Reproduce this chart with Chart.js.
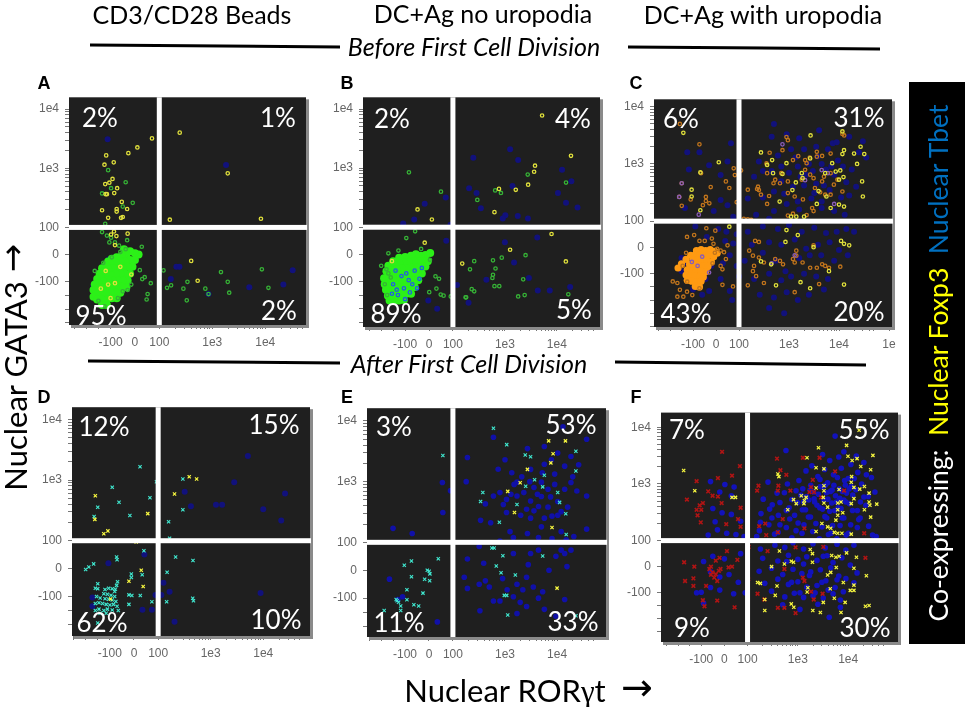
<!DOCTYPE html>
<html>
<head>
<meta charset="utf-8">
<script src="https://cdn.jsdelivr.net/npm/chart.js@4"></script>
<style>
  html, body { margin: 0; padding: 0; background: #fff; }
  #page { position: relative; width: 965px; height: 707px; overflow: hidden; font-family: Lato, sans-serif; color: #000; }
  #page canvas { position: absolute; filter: blur(0.35px); }
  .txt { position: absolute; transform: translate(-50%, -50%); white-space: pre; z-index: 5; }
  .title { font-size: 25px; }
  .sub { font-size: 25px; font-style: italic; }
  .pct { color: #fff; font-size: 26px; }
  .letter { font: bold 18px "Liberation Sans", sans-serif; }
  #side { position: absolute; left: 909px; top: 82px; width: 56px; height: 562px; background: #000; z-index: 4; }
  #rules { position: absolute; left: 0; top: 0; z-index: 3; }
</style>
</head>
<body>
<div id="page">
  <svg id="rules" width="965" height="707">
    <g stroke="#000" stroke-width="3">
      <line x1="90" y1="45" x2="340" y2="47"/>
      <line x1="628" y1="47" x2="880" y2="49"/>
      <line x1="88" y1="361" x2="340" y2="363"/>
      <line x1="615" y1="362" x2="866" y2="365"/>
    </g>
  </svg>
  <div class="txt title" style="left:192px;top:14px">CD3/CD28 Beads</div>
  <div class="txt title" style="left:483px;top:13px">DC+Ag no uropodia</div>
  <div class="txt title" style="left:763px;top:14px">DC+Ag with uropodia</div>
  <div class="txt sub" style="left:474px;top:46px">Before First Cell Division</div>
  <div class="txt sub" style="left:469px;top:363px">After First Cell Division</div>
  <div class="txt" style="left:15px;top:386px;font-size:31px;transform:translate(-50%,-50%) rotate(-90deg)">Nuclear GATA3</div>
  <div class="txt" style="left:12px;top:258px;font:34px 'DejaVu Sans';transform:translate(-50%,-50%) rotate(-90deg)">→</div>
  <div class="txt" style="left:505px;top:690px;font-size:31px">Nuclear ROR<span style="font-family:'Liberation Serif'">γ</span>t</div>
  <div class="txt" style="left:637px;top:687px;font:38px 'DejaVu Sans'">→</div>
  <div id="side"></div>
  <div class="txt" style="left:938px;top:363px;font-size:26.5px;color:#fff;z-index:6;transform:translate(-50%,-50%) rotate(-90deg)">Co-expressing:  <span style="color:#ffff00">Nuclear Foxp3</span>  <span style="color:#0070c0">Nuclear Tbet</span></div>
</div>

<script>
// Tick values on both biexponential axes
const majorTicks = [-100, 0, 100, 1000, 10000, 100000];
const minorTicks = [-300, -250, -200, -150, 200, 300, 400, 500, 600, 700, 800, 900,
  2000, 3000, 4000, 5000, 6000, 7000, 8000, 9000, 20000, 30000, 40000, 50000];
const tickLabels = { '-100': '-100', '0': '0', '100': '100', '1000': '1e3', '10000': '1e4', '100000': '1e' };

// Percent labels of each panel
const pctA = ['2%', '1%', '95%', '2%'];
const pctB = ['2%', '4%', '89%', '5%'];
const pctC = ['6%', '31%', '43%', '20%'];
const pctD = ['12%', '15%', '62%', '10%'];
const pctE = ['3%', '53%', '11%', '33%'];
const pctF = ['7%', '55%', '9%', '30%'];

// Panel A
const aBlue = [[-112,3100],[1820,1140],[210,-45],[240,-45],[165,-90],[5000,-120],[22000,-110],[33000,-57],[-170,-115],[-142,-78],[-107,-17],[-100,-100],[850,-145]];
const aBlob = [[15,0],[0,5],[-20,12],[-45,20],[-35,0],[-55,-5],[-75,-10],[-95,-15],[-110,-25],[0,-20],[-20,-20],[-40,-25],[-60,-25],[-80,-30],[-100,-35],[-120,-40],[-135,-50],[-10,-45],[-30,-45],[-50,-50],[-70,-50],[-90,-50],[-110,-55],[-130,-60],[-145,-70],[-20,-70],[-40,-70],[-60,-70],[-80,-70],[-100,-75],[-120,-75],[-140,-85],[-155,-90],[-30,-95],[-50,-95],[-70,-95],[-90,-95],[-110,-95],[-130,-100],[-150,-105],[-165,-110],[-35,-120],[-55,-118],[-75,-118],[-95,-118],[-115,-120],[-135,-120],[-155,-125],[-170,-130],[-60,-140],[-80,-140],[-100,-140],[-120,-140],[-140,-145],[-160,-145],[-170,-155],[-75,-160],[-95,-160],[-115,-165],[-135,-165],[-155,-165],[-115,-185],[-135,-185]];
const aGreen = [[-110,930],[-38,580],[-98,460],[-135,375],[-9,260],[-50,225],[-122,115],[-135,83],[-115,70],[-98,62],[-32,53],[28,29],[-38,20],[-65,33],[120,-58],[1460,-64],[8640,-54],[1960,-100],[2090,-140],[11500,-122],[740,-125],[340,-100],[285,-125],[330,-168],[140,-122],[167,-113],[52,-145],[48,-165],[65,-105],[40,-83],[30,-90],[20,-57],[850,-145],[-165,-60],[-150,-170],[-125,-190],[-70,-160],[-50,-135],[-30,-130],[-15,-110],[-130,-30],[-95,-10],[-60,10],[-82,45],[-105,45]];
const aYellow = [[70,3200],[10,2250],[-27,1800],[-118,1650],[-125,1150],[-87,1260],[-122,540],[-105,570],[-92,660],[-73,460],[-85,380],[-115,365],[-120,365],[-54,270],[-135,195],[-75,205],[-75,185],[-32,205],[-110,145],[-50,150],[-57,145],[243,4000],[1960,820],[158,135],[8300,140],[-86,85],[-76,68],[-98,74],[-30,77],[-82,35],[400,-23],[530,-96],[-15,-73],[-110,-110],[-82,-105],[-120,-60],[-60,-45],[-100,-160],[-140,-125]];

// Panel B
const bBlue = [[247,1500],[1260,2100],[1800,1380],[205,455],[285,380],[1400,500],[345,210],[1020,160],[1770,155],[2780,140],[15000,260],[25000,215],[10500,380],[12600,940],[19000,600],[70,320],[-18,250],[-62,135],[-108,115],[90,110],[910,140],[72,50],[1000,45],[4200,62],[1500,-30],[2900,-87],[4300,-133],[7300,-133],[18000,-120],[200,-178],[34,-200],[-3,-170],[120,-113],[440,-93]];
const bBlob = [[5,5],[-15,-2],[-35,-5],[-55,0],[-75,-5],[-100,-10],[-125,-12],[-150,-25],[-5,-25],[-25,-25],[-45,-25],[-65,-25],[-85,-28],[-105,-30],[-125,-32],[-145,-38],[-170,-42],[-15,-45],[-35,-48],[-55,-48],[-75,-48],[-95,-50],[-115,-52],[-135,-55],[-155,-58],[-178,-62],[-30,-70],[-50,-70],[-70,-70],[-90,-72],[-110,-74],[-130,-76],[-150,-78],[-172,-82],[-188,-88],[-45,-95],[-65,-95],[-85,-95],[-105,-98],[-125,-100],[-145,-100],[-165,-105],[-185,-110],[-60,-120],[-80,-120],[-100,-122],[-120,-122],[-140,-125],[-160,-125],[-180,-130],[-75,-145],[-95,-145],[-115,-148],[-135,-148],[-155,-150],[-172,-152],[-105,-168],[-125,-170],[-145,-170],[-165,-170]];
const bGreen = [[-84,850],[50,400],[295,290],[650,420],[840,380],[15000,570],[2750,780],[-95,60],[-58,85],[-33,20],[-128,14],[-170,4],[-200,-42],[4,-20],[-178,-55],[-155,-25],[27,-81],[42,-90],[31,-126],[1,-139],[49,-148],[61,-152],[91,-155],[213,-55],[257,-25],[230,-128],[257,-136],[180,-158],[175,-158],[590,-22],[870,-12],[660,-52],[590,-75],[575,-87],[630,-117],[780,-117],[2250,-92],[2500,-3],[1800,-155],[2400,-150],[16600,-147],[-185,-110],[-175,-150],[-160,-85],[-170,-70]];
const bYellow = [[5200,7800],[18700,1620],[3800,1100],[3650,870],[2800,525],[1620,430],[770,445],[630,180],[-48,200],[12,135],[-18,43],[-155,-25],[151,-34],[1260,17],[7900,75],[14900,-26]];
const bRing = [[-140,-60],[-115,-80],[-85,-95],[-60,-60],[-105,-125],[-130,-150],[-80,-140],[-40,-90],[-70,-110],[-30,-50],[-150,-110],[-100,-165],[-135,-130],[-155,-145],[-50,-125],[-95,-70]];

// Panel C
const cBlue = [[-125,1600],[-72,1600],[65,2300],[50,1100],[-30,950],[20,640],[-118,800],[-135,170],[20,235],[50,190],[-10,150],[75,120],[500,5000],[900,3300],[1600,2800],[4000,3900],[7500,2300],[450,3000],[2000,1800],[3500,2000],[6000,1800],[9000,2400],[16000,3000],[30000,2500],[35000,1300],[25000,1600],[250,1100],[600,1400],[1100,1800],[1500,900],[2500,1000],[4500,1000],[7000,900],[12000,900],[18000,800],[200,600],[300,750],[450,750],[700,500],[1000,700],[1700,600],[3000,750],[5000,420],[8000,650],[14000,480],[22000,400],[150,250],[300,260],[500,330],[800,300],[1200,400],[2000,420],[3500,450],[6500,350],[11000,260],[16000,280],[220,130],[500,150],[900,200],[1500,220],[2800,250],[4500,220],[8000,150],[13000,130],[400,110],[-90,80],[-40,40],[10,70],[45,60],[90,50],[75,15],[60,-30],[90,-70],[100,-110],[-140,-60],[-130,-110],[-60,-180],[-100,-160],[20,-120],[60,-165],[70,-200],[150,60],[300,80],[600,70],[1000,85],[1800,60],[3200,75],[5500,55],[9000,60],[14000,70],[20000,60],[180,10],[400,20],[700,10],[1300,30],[2200,-5],[3800,10],[6500,20],[10000,-10],[15000,-30],[130,-50],[300,-20],[550,-50],[850,-90],[1600,-40],[2600,-30],[4400,-30],[8000,-50],[200,-120],[400,-100],[700,-125],[1100,-110],[2000,-100],[3500,-110],[6000,-120],[260,-180],[500,-190],[900,-170],[1500,-200],[2500,-180],[5000,-160],[800,-250],[400,-230],[-90,-150],[-150,-90],[-115,-75],[-45,-120],[-20,-70],[-60,-110],[-85,-50],[-150,-40],[-30,-165],[30,-60],[40,25],[1350,1300],[3800,1350],[2200,650],[5500,800],[9500,1150],[700,900],[3200,310],[4500,170],[1600,160]];
const cBlob = [[-85,-12],[-65,-8],[-45,-12],[-25,-8],[-5,-15],[5,-22],[-110,-30],[-90,-28],[-70,-28],[-50,-30],[-30,-30],[-10,-35],[-130,-45],[-100,-48],[-80,-48],[-60,-50],[-40,-50],[-20,-55],[-150,-62],[-115,-65],[-95,-68],[-75,-68],[-55,-70],[-35,-72],[-165,-78],[-125,-85],[-105,-88],[-85,-88],[-65,-90],[-45,-92],[-130,-105],[-110,-108],[-90,-108],[-70,-110],[-55,-112],[-125,-125],[-105,-128],[-85,-130],[-65,-128],[-90,-148],[-72,-150]];
const cOrange = [[-157,5000],[-72,2200],[-149,460],[-160,265],[-23,395],[-44,265],[-44,225],[-29,205],[-57,190],[-110,240],[-149,185],[-65,690],[43,495],[58,380],[77,840],[82,640],[110,770],[90,215],[150,355],[240,400],[250,350],[275,290],[365,200],[400,275],[230,365],[490,460],[530,530],[355,1020],[410,1570],[365,690],[890,2950],[950,2600],[740,1740],[1530,1370],[2100,1170],[2600,1290],[3600,1630],[3600,1340],[4600,1380],[6800,1520],[11700,3350],[12700,3150],[1200,1170],[2250,1030],[2100,790],[1800,530],[2650,650],[3100,565],[5000,600],[4600,495],[6800,690],[9300,530],[7900,435],[950,495],[700,690],[660,460],[950,310],[1300,270],[1900,240],[3300,380],[4200,320],[5300,290],[6800,290],[11700,330],[2900,170],[3100,150],[1200,135],[950,125],[2250,128],[125,110],[150,108],[175,105],[-42,73],[-3,64],[-126,40],[-95,47],[-72,25],[-49,25],[-18,34],[-11,14],[5,-5],[20,-12],[43,-44],[35,-18],[50,8],[20,-70],[28,-83],[-188,-129],[-168,-135],[-157,-161],[-168,-187],[-142,-187],[-126,-168],[-103,-181],[-72,-155],[28,-142],[74,-148],[210,25],[250,21],[160,-12],[190,-31],[250,-38],[200,-70],[190,-90],[220,-109],[530,-44],[660,-51],[760,-64],[1200,-44],[1400,-12],[1400,-31],[1300,-57],[1870,-57],[3100,8],[3600,-77],[4600,-64],[5300,-70],[6300,-77],[10600,-73],[315,-135],[150,-144],[1300,-170],[4000,-139],[2650,-77],[315,-57],[-130,-20],[-145,-70],[-125,-130],[-15,-60],[-5,-20]];
const cYellow = [[-142,3500],[12,1070],[-106,355],[-106,270],[-68,155],[-68,710],[275,1590],[460,1170],[480,690],[890,1030],[365,960],[740,670],[1170,350],[650,220],[2700,3150],[11700,3700],[27000,2000],[32000,1490],[20000,1520],[12600,1740],[11700,1490],[7300,1030],[23000,1000],[8600,735],[10000,530],[12300,590],[29000,495],[30000,270],[10600,770],[6800,170],[10000,195],[12600,180],[3600,200],[1870,565],[1370,475],[1800,690],[2650,1250],[5300,690],[3900,335],[5600,270],[1400,120],[2000,120],[1100,120],[890,66],[1500,47],[850,21],[11000,25],[12600,14],[16000,8],[275,-53],[440,-64],[550,-144],[1700,-132],[2650,-155],[12600,-141],[6300,-90],[3100,1],[58,79]];
const cPurple = [[740,2200],[-149,460],[-160,265],[4500,780],[6000,690],[2100,520],[8000,200],[-80,-70],[-60,-35],[-105,-55],[-30,-95],[1300,-30],[450,-60],[-75,130]];

// Panel D
const dBlue = [[5100,2500],[2800,920],[26000,600],[10000,330],[22000,215],[320,640],[420,370],[1260,390],[1650,390],[-106,19],[43,51],[126,-51],[165,-83],[89,-94],[115,-94],[35,-147],[74,-147],[205,-190],[8900,-87],[-172,-103],[-172,-135]];
const dCyan = [[25,1650],[-90,760],[93,940],[66,510],[-62,430],[-150,355],[-17,260],[-165,250],[295,1040],[295,325],[158,205],[165,110],[41,64],[-72,42],[-70,32],[-167,17],[-187,6],[-200,-3],[-150,-54],[-68,-47],[-72,-60],[-77,-74],[-11,-19],[-11,-32],[34,-22],[148,-13],[215,42],[460,29],[-21,-94],[-9,-96],[26,-96],[-21,-128],[74,-119],[145,-119],[455,-106],[470,-115],[-160,-70],[-150,-72],[-120,-75],[-105,-70],[-90,-72],[-80,-82],[-125,-90],[-110,-92],[-95,-95],[-80,-100],[-155,-100],[-140,-105],[-120,-108],[-105,-110],[-90,-112],[-75,-118],[-160,-125],[-145,-122],[-130,-125],[-115,-128],[-100,-130],[-85,-128],[-70,-135],[-160,-150],[-145,-145],[-125,-150],[-110,-145],[-90,-148],[-65,-150],[-150,-195],[-115,-160],[-140,-160]];
const dYellow = [[390,1130],[540,1040],[205,590],[57,280],[-160,550],[-162,225],[-125,130],[-108,145],[9,96],[30,-6],[-21,-45],[38,-64],[-97,-109]];

// Panel E
const eBlue = [[56,970],[90,710],[58,310],[-150,170],[-70,140],[190,2500],[600,5400],[180,1000],[740,1600],[1000,2300],[1350,1400],[2700,3500],[5700,3800],[10300,2950],[37000,5000],[18500,2600],[26000,1900],[14000,1800],[9000,1330],[5700,1930],[3100,1590],[1700,980],[2300,660],[3600,800],[1070,510],[800,660],[600,580],[420,430],[340,230],[530,210],[1070,310],[1700,580],[3100,480],[5000,570],[6700,380],[18500,970],[37000,580],[16000,380],[10300,280],[5700,250],[3100,250],[2000,280],[1250,150],[2700,140],[5000,180],[8000,270],[12000,150],[37000,165],[21000,125],[800,105],[1450,120],[4400,120],[8000,115],[15000,110],[10300,470],[4400,390],[5000,980],[14000,750],[6700,750],[13000,8000],[190,40],[320,85],[165,-25],[190,-65],[320,-50],[390,25],[420,-38],[600,-110],[330,-145],[800,-110],[1450,-95],[1960,-115],[1700,-50],[2800,20],[3100,60],[5300,-77],[2600,-25],[7000,0],[9500,50],[15500,13],[14000,60],[18500,72],[12000,72],[4400,72],[1450,60],[5700,-140],[4400,-100],[2600,-130],[1700,-155],[9500,-165],[14000,-105],[-165,-32],[35,-185],[-130,-105],[-110,-95],[1500,900],[2100,1200],[3000,1000],[4200,620],[7500,560],[2600,350],[1300,620],[930,420],[9000,900],[20000,1200],[24000,700],[12000,320],[3600,330],[5200,1400],[7800,2300],[1100,-70],[2200,-70],[3500,-60],[900,-30],[500,-60]];
const eCyan = [[58,2700],[600,7600],[1080,4070],[2450,2750],[3100,2570],[23000,3160],[23000,1500],[5700,1270],[3700,1070],[2500,840],[5300,820],[10300,660],[11200,455],[14700,295],[15000,135],[375,660],[340,470],[780,215],[1700,420],[560,80],[620,80],[910,52],[680,15],[840,-9],[1580,-17],[970,-90],[1080,-90],[1130,-160],[5300,51],[23000,-163],[39,41],[-73,33],[-103,18],[-73,-23],[-7,0],[1,-4],[4,-13],[-18,-32],[3,-38],[-92,-70],[-25,-82],[-92,-106],[-137,-105],[-133,-109],[-127,-115],[-63,-124],[-43,-128],[-118,-128],[-118,-144],[-187,-144]];
const eYellow = [[6900,4700],[14500,4700],[8400,2880],[7600,2040],[2700,1590],[1960,960],[1130,690],[1520,310],[8000,175],[10000,-64]];

// Panel F
const fBlue = [[580,3900],[5500,7000],[3100,3300],[8200,3700],[14500,3100],[1900,2100],[4300,2600],[6500,3000],[11300,2200],[20500,2400],[1450,1700],[2500,1350],[3400,1800],[5100,1450],[7300,1900],[10000,1250],[15500,1600],[23000,1450],[1050,1150],[1800,950],[2750,1200],[3900,1050],[6100,1300],[8800,950],[13200,1250],[18500,1000],[29000,1300],[620,1000],[920,760],[1250,820],[2050,720],[3050,880],[4450,740],[6700,820],[9300,690],[14200,790],[20500,590],[34000,720],[255,1080],[385,690],[540,700],[760,530],[1150,640],[1650,520],[2550,660],[3950,540],[5600,620],[8200,520],[12300,640],[17500,480],[25000,600],[205,540],[310,430],[440,470],[670,380],[980,470],[1420,350],[2150,480],[3100,360],[4700,460],[7200,370],[10500,450],[15200,340],[22500,420],[185,300],[275,360],[410,280],[590,340],[860,280],[1230,350],[1780,260],[2720,380],[3750,250],[5400,340],[8200,250],[12200,340],[17300,250],[180,210],[305,250],[440,190],[690,240],[1010,205],[1620,260],[2280,200],[3450,265],[4900,185],[7600,250],[11200,190],[16200,235],[25500,180],[172,150],[265,190],[405,140],[590,170],[920,150],[1320,190],[1970,145],[3020,175],[4550,135],[6900,185],[10100,135],[15200,170],[30500,125],[152,118],[345,130],[760,112],[1210,135],[2680,108],[4050,128],[5950,108],[9100,125],[36000,118],[1500,600],[2100,550],[2800,900],[3300,520],[3700,700],[4800,780],[5800,480],[6800,560],[7700,740],[9000,480],[10500,820],[1300,480],[1750,780],[2400,420],[3500,950],[4300,330],[5200,950],[6300,380],[8500,1150],[11500,900],[-60,1100],[2,980],[42,880],[-20,720],[30,620],[-50,370],[-10,310],[30,290],[70,220],[-30,155],[10,135],[50,128],[85,118],[-70,125],[-40,215],[70,50],[-50,40],[0,30],[-90,20],[-60,-20],[-20,-40],[20,-30],[60,-60],[90,-100],[-120,-100],[-100,-98],[-60,-80],[-20,-90],[40,-104],[-90,-140],[180,68],[350,82],[550,74],[800,92],[1300,68],[2000,88],[3500,72],[6000,86],[9000,64],[13000,82],[200,32],[400,22],[650,44],[1000,28],[1500,38],[2400,24],[3800,42],[5000,16],[7500,34],[11000,6],[170,-18],[300,-6],[500,-30],[800,-10],[1200,-26],[1700,-34],[2800,-12],[4500,-4],[6500,-36],[9000,-46],[15000,-24],[220,-64],[400,-48],[650,-68],[1000,-58],[1500,-78],[2400,-72],[3600,-54],[5500,-80],[8000,-96],[13000,-62],[300,-94],[550,-116],[850,-102],[1300,-118],[2000,-112],[3200,-120],[5000,-104],[7000,-128],[500,-146],[1100,-164],[2500,-144],[4200,-194],[7000,-156],[750,-60],[1100,-100],[1800,-20],[2200,-100],[3000,-60],[4000,-90],[6000,-50],[600,20],[1300,10],[3200,40]];
const fRed = [[-10,3700],[67,2070],[33,1400],[-28,1270],[-120,1120],[-162,530],[-70,740],[-51,620],[-28,600],[-12,460],[-93,460],[-107,420],[-120,350],[-100,350],[-116,280],[-102,210],[8,195],[59,240],[70,175],[70,380],[385,2800],[1260,2900],[2700,2900],[450,1750],[590,1450],[410,930],[165,930],[155,760],[400,760],[710,760],[5500,1670],[1980,1180],[1830,880],[1700,720],[2100,720],[8300,760],[2900,580],[500,240],[225,200],[170,180],[400,140],[235,125],[1350,165],[20800,135],[3200,76],[105,76],[11,60],[-174,17],[-130,0],[-170,-55],[-134,-45],[-134,-74],[-79,-74],[-21,34],[-37,23],[-58,0],[-65,-9],[-51,-22],[-37,-29],[-24,-16],[-44,-42],[-31,-55],[-58,-31],[-17,-9],[18,-3],[33,0],[56,26],[103,-48],[-93,-129],[-31,-130],[44,-156],[-86,-152],[1350,-55],[1260,-42],[1830,-96],[3100,-104],[158,-104],[540,-158],[400,-158],[900,-178],[2070,-126],[540,-9],[215,-126],[22000,34],[900,74],[250,60]];
const fYellow = [[-176,1730],[-128,760],[33,580],[48,580],[16500,8900],[2570,4360],[9300,4800],[9900,3080],[1520,2900],[31000,3200],[12000,2600],[15000,2800],[17800,2040],[2300,1930],[3300,1850],[28000,1780],[400,1500],[420,1350],[11700,1350],[3300,930],[3300,760],[6600,800],[13000,870],[11500,1070],[21000,900],[17000,810],[26000,690],[2300,850],[1170,620],[1460,580],[1350,510],[1320,450],[820,530],[930,450],[3200,580],[3300,460],[6200,460],[7200,480],[3900,390],[13000,550],[11500,450],[26000,480],[27000,420],[37000,440],[21000,350],[28000,260],[630,350],[6200,350],[7800,310],[6200,280],[5700,230],[3000,200],[3900,175],[4500,165],[2300,145],[5300,140],[6200,135],[7500,135],[11500,130],[430,60],[540,10],[740,21],[820,17],[300,0],[1760,66],[1950,50],[1950,17],[4700,43],[5700,36],[6600,40],[9300,53],[14600,36],[13000,-6],[5800,-3],[4500,-22],[3900,-32],[23000,-35],[8000,-61],[13000,-71],[11000,-91],[13000,-91],[4400,-85],[5300,-121],[3200,-137],[8700,-137],[1580,-81],[1530,-97],[385,-74],[355,-110],[158,-61],[180,-64],[220,-126],[220,-168],[740,-143],[830,-156],[1980,-168],[2800,-176],[7200,-176],[22000,-152],[26000,-149]];

// Panels: plot rectangle in page pixels and axis limits in display units
const panels = [
  { letter: 'A', lx: 44, ly: 83, left: 69, right: 306, top: 96, bottom: 325, xr: [-1.245, 3.23], yr: [-1.19, 2.66], pct: pctA,
    pos: [[100,117],[278,117],[101,315],[279,310]],
    series: [['blue', aBlue], ['green', aBlob], ['ringGreen', aGreen], ['ringYellow', aYellow]] },
  { letter: 'B', lx: 347, ly: 83, left: 363, right: 600, top: 96, bottom: 327, xr: [-1.27, 3.29], yr: [-1.23, 2.66], pct: pctB,
    pos: [[392,118],[573,118],[396,313],[574,309]],
    series: [['blue', bBlue], ['green', bBlob], ['ringBlue', bRing], ['ringGreen', bGreen], ['ringYellow', bYellow]] },
  { letter: 'C', lx: 636, ly: 83, left: 654, right: 892, top: 98, bottom: 327, xr: [-1.24, 3.52], yr: [-1.39, 2.59], pct: pctC,
    pos: [[681,118],[859,117],[686,313],[859,311]],
    series: [['blue', cBlue], ['orange', cBlob], ['ringOrange', cOrange], ['ringPurple', cPurple], ['ringYellow', cYellow]] },
  { letter: 'D', lx: 44, ly: 397, left: 72, right: 310, top: 406, bottom: 636, xr: [-1.18, 3.35], yr: [-1.11, 2.66], pct: pctD,
    pos: [[104,426],[274,424],[102,622],[276,619]],
    series: [['blue', dBlue], ['crossCyan', dCyan], ['crossYellow', dYellow]] },
  { letter: 'E', lx: 347, ly: 397, left: 367, right: 606, top: 407, bottom: 637, xr: [-1.19, 3.40], yr: [-1.10, 2.67], pct: pctE,
    pos: [[394,426],[571,424],[399,622],[573,621]],
    series: [['blueMid', eBlue], ['crossCyan', eCyan], ['crossYellow', eYellow]] },
  { letter: 'F', lx: 636, ly: 397, left: 661, right: 898, top: 411, bottom: 642, xr: [-1.26, 3.45], yr: [-1.33, 2.72], pct: pctF,
    pos: [[687,429],[864,429],[692,627],[865,627]],
    series: [['blueBright', fBlue], ['crossRed', fRed], ['crossYellow', fYellow]] }
];

// Marker styles
const styles = {
  blue:       { pointStyle: 'circle', radius: 3, backgroundColor: '#11117c', borderWidth: 0 },
  blueMid:    { pointStyle: 'circle', radius: 2.8, backgroundColor: '#1010a8', borderWidth: 0 },
  blueBright: { pointStyle: 'circle', radius: 2.8, backgroundColor: '#1212bc', borderWidth: 0 },
  green:      { pointStyle: 'circle', radius: 4, backgroundColor: '#2cf018', borderWidth: 0 },
  orange:     { pointStyle: 'circle', radius: 3.6, backgroundColor: '#ff9a12', borderWidth: 0 },
  ringGreen:  { pointStyle: 'circle', radius: 1.7, backgroundColor: 'transparent', borderColor: '#36b236', borderWidth: 1.3 },
  ringYellow: { pointStyle: 'circle', radius: 1.7, backgroundColor: 'transparent', borderColor: '#e0e03c', borderWidth: 1.3 },
  ringBlue:   { pointStyle: 'circle', radius: 1.7, backgroundColor: 'transparent', borderColor: '#2060e0', borderWidth: 1.3 },
  ringOrange: { pointStyle: 'circle', radius: 1.7, backgroundColor: 'transparent', borderColor: '#c0741c', borderWidth: 1.3 },
  ringPurple: { pointStyle: 'circle', radius: 1.7, backgroundColor: 'transparent', borderColor: '#8a5cb8', borderWidth: 1.3 },
  crossCyan:  { pointStyle: 'crossRot', radius: 2.3, borderColor: '#40e8d0', borderWidth: 1.1 },
  crossYellow:{ pointStyle: 'crossRot', radius: 2.3, borderColor: '#f8f840', borderWidth: 1.2 },
  crossRed:   { pointStyle: 'crossRot', radius: 2.6, borderColor: '#b01414', borderWidth: 1.6 }
};

// Biexponential display: linear near zero, one unit per decade above 100
const LIN = 0.46;
function biex(v) {
  if (v > 100) return LIN + Math.log10(v / 100);
  return LIN * v / 100;
}

const allTicks = majorTicks.concat(minorTicks).sort((a, b) => a - b);

// Dark plot background with grey shadow on right and bottom
const plotBack = {
  id: 'plotBack',
  beforeDatasetsDraw(chart) {
    const a = chart.chartArea, c = chart.ctx;
    c.fillStyle = '#8a8a8a';
    c.fillRect(a.left + 2, a.top + 2, a.width + 1, a.height + 1);
    c.fillStyle = '#1f1f1f';
    c.fillRect(a.left, a.top, a.width, a.height);
  }
};

// White quadrant gates at 100 / 100
const gates = {
  id: 'gates',
  afterDatasetsDraw(chart) {
    const a = chart.chartArea, c = chart.ctx;
    const gx = chart.scales.x.getPixelForValue(biex(100));
    const gy = chart.scales.y.getPixelForValue(biex(100));
    c.fillStyle = '#fff';
    c.fillRect(gx - 2.5, a.top, 5, a.height);
    c.fillRect(a.left, gy - 2.5, a.width + 1, 5);
  }
};

function axis(range, fit) {
  return {
    type: 'linear',
    min: range[0],
    max: range[1],
    afterBuildTicks(s) {
      s.ticks = allTicks.filter(v => biex(v) >= s.min && biex(v) <= s.max).map(v => ({ value: biex(v), raw: v }));
    },
    afterFit(s) {
      fit(s);
      // no extra room for the end tick labels, the plot rectangle is fixed
      s.paddingLeft = s.paddingRight = s.paddingTop = s.paddingBottom = 0;
    },
    border: { display: false },
    grid: { drawOnChartArea: false, drawTicks: true, tickLength: 4, tickColor: '#777', tickWidth: 1 },
    ticks: {
      autoSkip: false,
      maxRotation: 0,
      minRotation: 0,
      padding: 6,
      color: '#666',
      font: { family: 'Liberation Sans', size: 12 },
      callback(value, index, ticks) {
        const raw = ticks[index].raw;
        return majorTicks.includes(raw) ? tickLabels[raw] : '';
      }
    }
  };
}

const page = document.getElementById('page');
const M_LEFT = 40, M_TOP = 4, M_RIGHT = 10, M_BOTTOM = 26;

panels.forEach(p => {
  const cv = document.createElement('canvas');
  const w = p.right - p.left + M_LEFT + M_RIGHT;
  const h = p.bottom - p.top + M_TOP + M_BOTTOM;
  cv.width = w;
  cv.height = h;
  cv.style.left = (p.left - M_LEFT) + 'px';
  cv.style.top = (p.top - M_TOP) + 'px';
  cv.style.width = w + 'px';
  cv.style.height = h + 'px';
  page.appendChild(cv);

  new Chart(cv.getContext('2d'), {
    type: 'scatter',
    data: {
      datasets: p.series.map((s, i) => {
        const st = styles[s[0]];
        return {
          data: s[1].map(d => ({ x: biex(d[0]), y: biex(d[1]) })),
          pointStyle: st.pointStyle,
          pointRadius: st.radius,
          pointBackgroundColor: st.backgroundColor || 'transparent',
          pointBorderColor: st.borderColor || 'transparent',
          pointBorderWidth: st.borderWidth,
          order: p.series.length - i
        };
      })
    },
    options: {
      responsive: false,
      animation: false,
      devicePixelRatio: 1,
      layout: { padding: { top: M_TOP, right: M_RIGHT, left: 0, bottom: 0 } },
      plugins: { legend: { display: false }, title: { display: false }, tooltip: { enabled: false } },
      scales: {
        x: axis(p.xr, s => { s.height = M_BOTTOM; }),
        y: axis(p.yr, s => { s.width = M_LEFT; })
      }
    },
    plugins: [plotBack, gates]
  });

  // Panel letter and percentages
  const add = (cls, text, x, y) => {
    const d = document.createElement('div');
    d.className = 'txt ' + cls;
    d.textContent = text;
    d.style.left = x + 'px';
    d.style.top = y + 'px';
    page.appendChild(d);
  };
  add('letter', p.letter, p.lx, p.ly);
  p.pct.forEach((t, i) => add('pct', t, p.pos[i][0], p.pos[i][1]));
});
</script>
</body>
</html>
